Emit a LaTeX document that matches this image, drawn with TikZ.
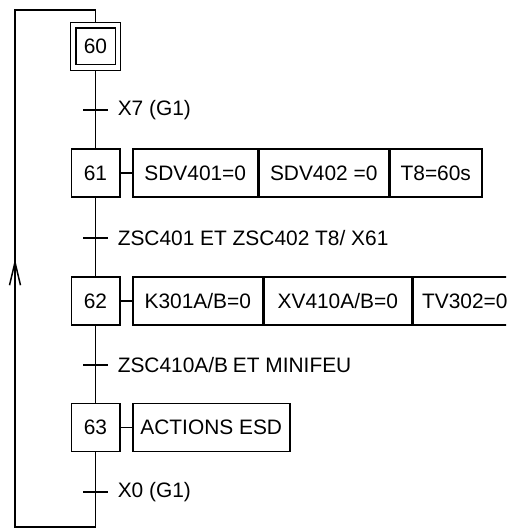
\documentclass[tikz,border=0pt]{standalone}
\usepackage{fontspec}
\setmainfont{Liberation Sans}
\usetikzlibrary{arrows.meta,positioning,fit}
\begin{document}
\begin{tikzpicture}[x=1pt,y=-1pt,
  line width=1.5pt,
  font=\fontsize{20.9}{24}\selectfont,
  stepbox/.style={draw,minimum width=48.5pt,minimum height=48pt,inner sep=0pt},
  actbox/.style={draw,minimum height=48pt,inner sep=0pt,anchor=west},
  tick/.style={line width=1.5pt},
  translabel/.style={anchor=west,inner sep=0pt}]
\useasboundingbox (0,0) rectangle (506,529);
\clip (0,0) rectangle (506,529);
% steps
\node[draw,minimum width=39.5pt,minimum height=36.5pt,inner sep=0pt] (s60) at (95.5,46.5) {60};
\node[draw,fit=(s60),inner xsep=4.5pt,inner ysep=5.2pt] (s60o) {};
\node[stepbox] (s61) at (95.5,173) {61};
\node[stepbox] (s62) at (95.5,301) {62};
\node[stepbox] (s63) at (95.5,427.5) {63};
% actions
\node[actbox,minimum width=125pt] (a61a) at (132,173) {SDV401=0};
\node[actbox,minimum width=129pt] (a61b) at (a61a.east) {SDV402 =0};
\node[actbox,minimum width=92pt] (a61c) at (a61b.east) {T8=60s};
\node[actbox,minimum width=130pt] (a62a) at (132,301) {K301A/B=0};
\node[actbox,minimum width=147pt] (a62b) at (a62a.east) {XV410A/B=0};
\node[actbox,minimum width=104pt] (a62c) at (a62b.east) {TV302=0};
\node[actbox,minimum width=157pt] (a63a) at (132,427.5) {ACTIONS ESD};
\draw (s61.east) -- (a61a.west);
\draw (s62.east) -- (a62a.west);
\draw (s63.east) -- (a63a.west);
% transitions
\coordinate (t1) at (95.5,110);
\coordinate (t2) at (95.5,238);
\coordinate (t3) at (95.5,365);
\coordinate (t4) at (95.5,492);
\draw (s60o.south) -- (s61.north);
\draw (s61.south) -- (s62.north);
\draw (s62.south) -- (s63.north);
\foreach \t in {t1,t2,t3,t4}{
  \draw[tick] ([xshift=-12.5pt]\t) -- ([xshift=12.5pt]\t);
}
\node[translabel] (l1) at ([xshift=21.5pt]t1) {X7 (G1)};
\node[translabel] (l2) at ([xshift=21.5pt]t2) {ZSC401 ET ZSC402 T8/ X61};
\node[translabel] (l3) at ([xshift=21.5pt]t3) {ZSC410A/B\hspace{-1pt} ET MINIFEU};
\node[translabel] (l4) at ([xshift=21.5pt]t4) {X0 (G1)};
% loop back
\coordinate (rb) at (95.5,527);
\coordinate (lb) at (15,527);
\coordinate (lt) at (15,10);
\coordinate (rt) at (95.5,10);
\draw (s63.south) -- (rb) -- (lb) -- (lt) -- (rt) -- (s60o.north);
\coordinate (arS) at (15,282);
\coordinate (arE) at (15,259);
\draw[-{Straight Barb[length=23pt,width=11pt,line width=1.5pt]}] (arS) -- (arE);
\end{tikzpicture}
\end{document}
